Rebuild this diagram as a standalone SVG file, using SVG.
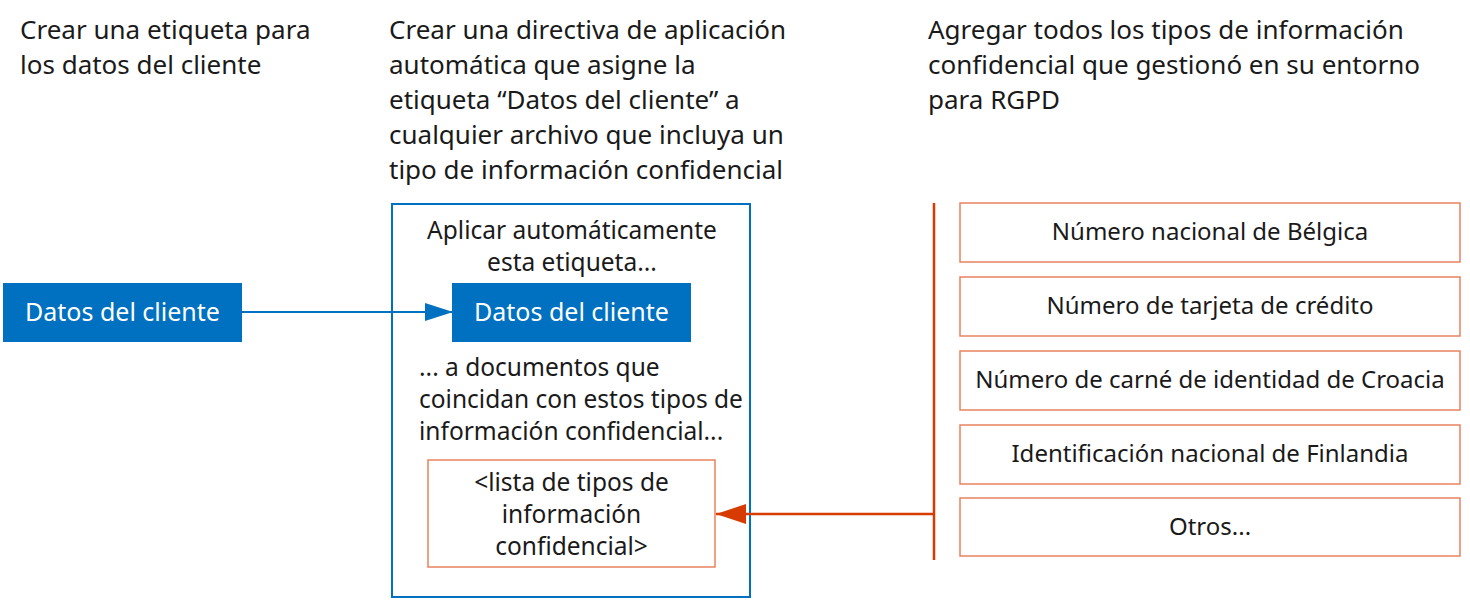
<svg xmlns="http://www.w3.org/2000/svg" width="1470" height="600" viewBox="0 0 1470 600">
<defs>
<style>
text{font-family:"Segoe UI","Noto Sans","Open Sans","DejaVu Sans",sans-serif;fill:#1a1a1a}
.h{font-size:26px}
.b{font-size:24.5px}
.r{font-size:24px}
.c{text-anchor:middle}
.w{fill:#ffffff;font-size:25px}
.blue{fill:#0070c0}
.obox{fill:#ffffff;stroke:#e9825f;stroke-width:1.5}
</style>
<marker id="ab" markerWidth="28" markerHeight="20" refX="27" refY="9" orient="auto" markerUnits="userSpaceOnUse"><path d="M0,0 L28,9 L0,18 Z" fill="#0070c0"/></marker>
<marker id="ao" markerWidth="32" markerHeight="22" refX="30" refY="10" orient="auto" markerUnits="userSpaceOnUse"><path d="M0,0 L30,10 L0,20 Z" fill="#d83b01"/></marker>
</defs>
<rect width="1470" height="600" fill="#ffffff"/>
<g id="headers">
<text class="h" x="20" y="39">Crear una etiqueta para</text>
<text class="h" x="20" y="74">los datos del cliente</text>
<text class="h" x="389" y="39">Crear una directiva de aplicación</text>
<text class="h" x="389" y="74">automática que asigne la</text>
<text class="h" x="389" y="109">etiqueta “Datos del cliente” a</text>
<text class="h" x="389" y="144">cualquier archivo que incluya un</text>
<text class="h" x="389" y="179">tipo de información confidencial</text>
<text class="h" x="928" y="39">Agregar todos los tipos de información</text>
<text class="h" x="928" y="74">confidencial que gestionó en su entorno</text>
<text class="h" x="928" y="109">para RGPD</text>
</g>
<g id="label-node">
<rect class="blue" x="3" y="283" width="239" height="59"/>
<text class="w c" x="122.5" y="321">Datos del cliente</text>
</g>
<g id="policy-node">
<rect x="392" y="204" width="358" height="393" fill="none" stroke="#0070c0" stroke-width="2"/>
<text class="b c" x="572" y="239">Aplicar automáticamente</text>
<text class="b c" x="572" y="271">esta etiqueta...</text>
<rect class="blue" x="452" y="283" width="239" height="59"/>
<text class="w c" x="571.5" y="321">Datos del cliente</text>
<text class="b" x="419" y="376">... a documentos que</text>
<text class="b" x="419" y="408">coincidan con estos tipos de</text>
<text class="b" x="419" y="440">información confidencial...</text>
</g>
<g id="list-node">
<rect class="obox" x="428" y="460" width="287" height="107"/>
<text class="b c" x="571.5" y="491">&lt;lista de tipos de</text>
<text class="b c" x="571.5" y="523">información</text>
<text class="b c" x="571.5" y="555">confidencial&gt;</text>
</g>
<g id="types">
<g id="type-1"><rect class="obox" x="960" y="203" width="500" height="59"/><text class="r c" x="1210" y="240">Número nacional de Bélgica</text></g>
<g id="type-2"><rect class="obox" x="960" y="277" width="500" height="59"/><text class="r c" x="1210" y="314">Número de tarjeta de crédito</text></g>
<g id="type-3"><rect class="obox" x="960" y="351" width="500" height="59"/><text class="r c" x="1210" y="388">Número de carné de identidad de Croacia</text></g>
<g id="type-4"><rect class="obox" x="960" y="425" width="500" height="59"/><text class="r c" x="1210" y="462">Identificación nacional de Finlandia</text></g>
<g id="type-5"><rect class="obox" x="960" y="498" width="500" height="58"/><text class="r c" x="1210" y="535">Otros...</text></g>
</g>
<g id="connectors">
<line x1="242" y1="312" x2="452" y2="312" stroke="#0070c0" stroke-width="2" marker-end="url(#ab)"/>
<line x1="934" y1="203" x2="934" y2="560" stroke="#d83b01" stroke-width="2.5"/>
<line x1="934" y1="514" x2="716" y2="514" stroke="#d83b01" stroke-width="2.5" marker-end="url(#ao)"/>
</g>
</svg>
